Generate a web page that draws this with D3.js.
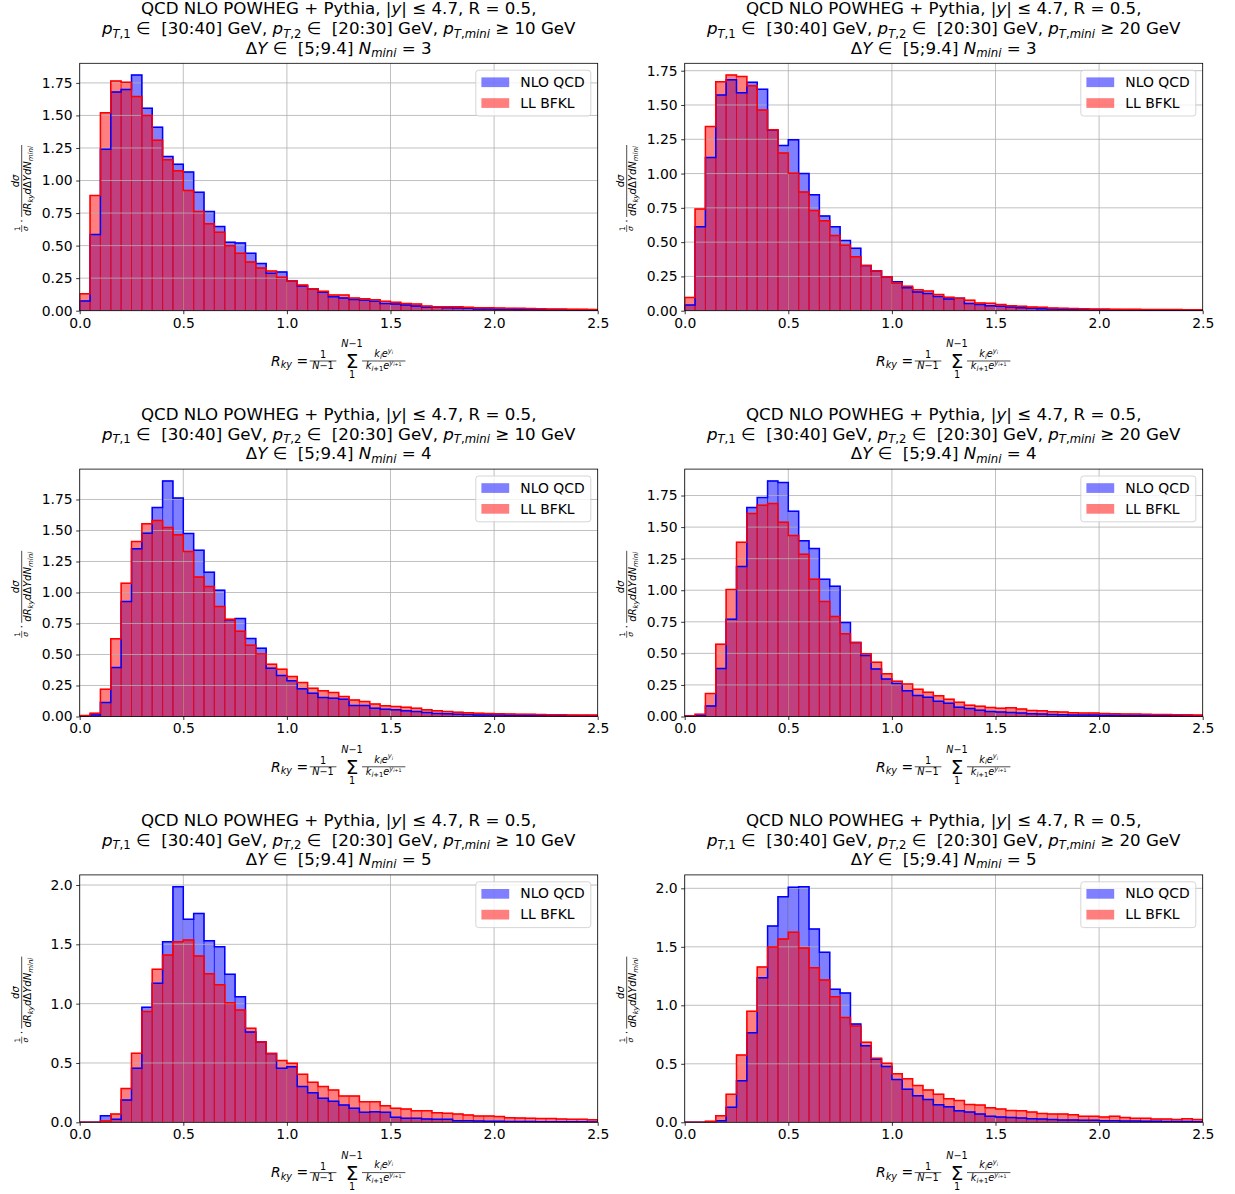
<!DOCTYPE html>
<html>
<head>
<meta charset="utf-8">
<script src="https://cdn.jsdelivr.net/npm/d3@7"></script>
<style>
  body { margin: 0; background: #fff; }
  svg { display: block; }
  text { font-family: "DejaVu Sans", sans-serif; white-space: pre; }
</style>
</head>
<body>
<div id="chart"></div>
<script>
// histogram bins: 50 bins of width 0.05 on [0, 2.5]
const binEdges = d3.range(0, 51).map(i => +(i * 0.05).toFixed(2));
const xTicks = [0, 0.5, 1.0, 1.5, 2.0, 2.5];
const yTicksFine = [0, 0.25, 0.5, 0.75, 1.0, 1.25, 1.5, 1.75];
const yTicksCoarse = [0, 0.5, 1.0, 1.5, 2.0];
const seriesNames = ["NLO QCD", "LL BFKL"];

// N_mini = 3, pT,mini >= 10
const nloN3Pt10 = [0.075, 0.585, 1.24, 1.68, 1.70, 1.81, 1.555, 1.41, 1.185, 1.125, 1.065, 0.91, 0.762, 0.646, 0.526, 0.521, 0.441, 0.362, 0.287, 0.298, 0.228, 0.19, 0.169, 0.141, 0.108, 0.098, 0.087, 0.08, 0.072, 0.056, 0.051, 0.044, 0.036, 0.026, 0.026, 0.023, 0.021, 0.018, 0.013, 0.013, 0.012, 0.011, 0.010, 0.009, 0.008, 0.008, 0.007, 0.006, 0.005, 0.005];
const bfklN3Pt10 = [0.13, 0.885, 1.52, 1.765, 1.755, 1.645, 1.50, 1.31, 1.16, 1.075, 0.924, 0.762, 0.667, 0.603, 0.498, 0.441, 0.375, 0.328, 0.305, 0.257, 0.228, 0.198, 0.169, 0.149, 0.121, 0.12, 0.097, 0.092, 0.085, 0.072, 0.064, 0.056, 0.051, 0.036, 0.031, 0.031, 0.031, 0.026, 0.023, 0.023, 0.021, 0.019, 0.018, 0.016, 0.015, 0.014, 0.013, 0.012, 0.011, 0.010];

// N_mini = 3, pT,mini >= 20
const nloN3Pt20 = [0.041, 0.613, 1.117, 1.572, 1.684, 1.589, 1.665, 1.614, 1.317, 1.205, 1.246, 1.00, 0.845, 0.691, 0.613, 0.511, 0.455, 0.329, 0.29, 0.248, 0.212, 0.168, 0.137, 0.126, 0.104, 0.085, 0.09, 0.052, 0.045, 0.037, 0.032, 0.027, 0.022, 0.017, 0.015, 0.012, 0.010, 0.009, 0.008, 0.007, 0.007, 0.006, 0.005, 0.005, 0.004, 0.004, 0.003, 0.003, 0.003, 0.002];
const bfklN3Pt20 = [0.097, 0.742, 1.343, 1.67, 1.718, 1.708, 1.64, 1.463, 1.319, 1.149, 1.003, 0.866, 0.73, 0.655, 0.548, 0.477, 0.394, 0.329, 0.29, 0.248, 0.2, 0.178, 0.152, 0.143, 0.118, 0.098, 0.09, 0.077, 0.057, 0.054, 0.045, 0.037, 0.032, 0.027, 0.025, 0.02, 0.018, 0.016, 0.015, 0.013, 0.012, 0.011, 0.010, 0.010, 0.009, 0.009, 0.008, 0.008, 0.007, 0.007];

// N_mini = 4, pT,mini >= 10
const nloN4Pt10 = [0.003, 0.013, 0.113, 0.395, 0.927, 1.352, 1.478, 1.685, 1.90, 1.761, 1.476, 1.341, 1.164, 1.019, 0.78, 0.79, 0.629, 0.551, 0.39, 0.331, 0.288, 0.223, 0.188, 0.153, 0.148, 0.14, 0.089, 0.089, 0.067, 0.059, 0.054, 0.046, 0.04, 0.032, 0.024, 0.022, 0.019, 0.016, 0.013, 0.013, 0.012, 0.011, 0.010, 0.009, 0.008, 0.008, 0.007, 0.006, 0.006, 0.005];
const bfklN4Pt10 = [0.008, 0.027, 0.22, 0.626, 1.075, 1.411, 1.554, 1.581, 1.524, 1.465, 1.331, 1.124, 1.048, 0.887, 0.785, 0.688, 0.575, 0.505, 0.422, 0.382, 0.323, 0.274, 0.228, 0.207, 0.194, 0.161, 0.134, 0.121, 0.10, 0.086, 0.081, 0.075, 0.067, 0.054, 0.046, 0.04, 0.035, 0.03, 0.027, 0.024, 0.022, 0.021, 0.019, 0.018, 0.016, 0.015, 0.014, 0.013, 0.012, 0.012];

// N_mini = 4, pT,mini >= 20
const nloN4Pt20 = [0.003, 0.008, 0.084, 0.38, 0.771, 1.188, 1.655, 1.734, 1.866, 1.853, 1.626, 1.391, 1.33, 1.087, 1.032, 0.744, 0.586, 0.483, 0.377, 0.296, 0.262, 0.204, 0.167, 0.152, 0.12, 0.105, 0.074, 0.063, 0.049, 0.04, 0.035, 0.032, 0.027, 0.021, 0.019, 0.016, 0.013, 0.012, 0.011, 0.011, 0.010, 0.009, 0.008, 0.007, 0.007, 0.006, 0.005, 0.005, 0.004, 0.004];
const bfklN4Pt20 = [0.003, 0.018, 0.182, 0.573, 1.006, 1.38, 1.607, 1.673, 1.686, 1.539, 1.433, 1.285, 1.087, 0.911, 0.792, 0.655, 0.586, 0.496, 0.43, 0.338, 0.28, 0.257, 0.215, 0.192, 0.164, 0.137, 0.113, 0.09, 0.082, 0.072, 0.066, 0.07, 0.059, 0.048, 0.045, 0.037, 0.035, 0.029, 0.027, 0.027, 0.024, 0.022, 0.02, 0.019, 0.017, 0.016, 0.015, 0.014, 0.013, 0.012];

// N_mini = 5, pT,mini >= 10
const nloN5Pt10 = [0.0, 0.0, 0.056, 0.025, 0.188, 0.455, 0.969, 1.171, 1.522, 1.986, 1.711, 1.761, 1.531, 1.48, 1.247, 1.059, 0.761, 0.677, 0.579, 0.455, 0.469, 0.301, 0.25, 0.202, 0.177, 0.146, 0.118, 0.084, 0.088, 0.084, 0.042, 0.034, 0.034, 0.028, 0.025, 0.025, 0.014, 0.014, 0.011, 0.008, 0.008, 0.007, 0.006, 0.006, 0.005, 0.005, 0.004, 0.004, 0.004, 0.003];
const bfklN5Pt10 = [0.0, 0.0, 0.012, 0.07, 0.284, 0.581, 0.933, 1.289, 1.41, 1.522, 1.537, 1.402, 1.253, 1.16, 1.008, 0.947, 0.792, 0.677, 0.579, 0.52, 0.497, 0.404, 0.337, 0.301, 0.272, 0.222, 0.222, 0.174, 0.174, 0.14, 0.118, 0.112, 0.098, 0.098, 0.081, 0.076, 0.07, 0.062, 0.053, 0.053, 0.048, 0.039, 0.037, 0.034, 0.031, 0.031, 0.028, 0.025, 0.025, 0.022];

// N_mini = 5, pT,mini >= 20
const nloN5Pt20 = [0.0, 0.0, 0.003, 0.014, 0.128, 0.356, 0.766, 1.236, 1.678, 1.929, 2.009, 2.014, 1.652, 1.453, 1.137, 1.105, 0.84, 0.655, 0.538, 0.476, 0.365, 0.283, 0.228, 0.195, 0.15, 0.132, 0.098, 0.087, 0.07, 0.051, 0.045, 0.042, 0.037, 0.031, 0.028, 0.023, 0.02, 0.02, 0.017, 0.017, 0.014, 0.014, 0.011, 0.011, 0.009, 0.008, 0.007, 0.007, 0.006, 0.005];
const bfklN5Pt20 = [0.0, 0.0, 0.009, 0.057, 0.239, 0.575, 0.949, 1.328, 1.499, 1.567, 1.624, 1.49, 1.322, 1.217, 1.074, 0.895, 0.823, 0.684, 0.547, 0.504, 0.415, 0.372, 0.314, 0.277, 0.24, 0.202, 0.186, 0.152, 0.147, 0.124, 0.113, 0.10, 0.099, 0.088, 0.076, 0.071, 0.071, 0.065, 0.051, 0.051, 0.045, 0.051, 0.04, 0.034, 0.034, 0.028, 0.028, 0.025, 0.031, 0.023];

const panels = [
  { nlo: nloN3Pt10, bfkl: bfklN3Pt10, ptMini: "10", nMini: "3", yTicks: yTicksFine, fmt: ".2f" },
  { nlo: nloN3Pt20, bfkl: bfklN3Pt20, ptMini: "20", nMini: "3", yTicks: yTicksFine, fmt: ".2f" },
  { nlo: nloN4Pt10, bfkl: bfklN4Pt10, ptMini: "10", nMini: "4", yTicks: yTicksFine, fmt: ".2f" },
  { nlo: nloN4Pt20, bfkl: bfklN4Pt20, ptMini: "20", nMini: "4", yTicks: yTicksFine, fmt: ".2f" },
  { nlo: nloN5Pt10, bfkl: bfklN5Pt10, ptMini: "10", nMini: "5", yTicks: yTicksCoarse, fmt: ".1f" },
  { nlo: nloN5Pt20, bfkl: bfklN5Pt20, ptMini: "20", nMini: "5", yTicks: yTicksCoarse, fmt: ".1f" }
];

const width = 1235, height = 1194;
const colLeft = [79.7, 684.7];
const rowTop = [63.3, 469.1, 874.9];
const pw = 518, ph = 247.4;
const fs = 13.9;           // 10pt
const titleFs = 16.67;     // 12pt
const colors = ["#0000ff", "#ff0000"];

const svg = d3.select("#chart").append("svg")
  .attr("width", width)
  .attr("height", height)
  .style("background", "#fff");

// text with mathtext-like runs: fmt letters i = italic, _ = subscript, ^ = superscript
function richText(parent, x, y, segs, size, anchor) {
  const t = parent.append("text")
    .attr("x", x).attr("y", y)
    .attr("text-anchor", anchor || "middle")
    .style("font-size", size + "px")
    .attr("fill", "#000");
  let cur = 0;
  segs.forEach(([str, fmt = ""]) => {
    let s = size, off = 0;
    for (const c of fmt) {
      if (c === "^") { off -= s * 0.42; s *= 0.7; }
      if (c === "_") { off += s * 0.2; s *= 0.7; }
    }
    t.append("tspan")
      .attr("dy", (off - cur).toFixed(2))
      .style("font-size", s + "px")
      .style("font-style", fmt.includes("i") ? "italic" : "normal")
      .text(str);
    cur = off;
  });
  return t;
}

panels.forEach((p, k) => {
  const left = colLeft[k % 2], top = rowTop[Math.floor(k / 2)];
  const g = svg.append("g").attr("transform", `translate(${left},${top})`);

  const x = d3.scaleLinear().domain([0, 2.5]).range([0, pw]);
  const yMax = 1.05 * d3.max([...p.nlo, ...p.bfkl]);
  const y = d3.scaleLinear().domain([0, yMax]).range([ph, 0]);

  const clipId = "clip" + k;
  g.append("clipPath").attr("id", clipId)
    .append("rect").attr("width", pw).attr("height", ph);
  const plot = g.append("g").attr("clip-path", `url(#${clipId})`);

  // filled bars
  [p.nlo, p.bfkl].forEach((vals, s) => {
    plot.append("g").selectAll("rect")
      .data(vals)
      .join("rect")
        .attr("x", (d, i) => x(binEdges[i]))
        .attr("y", d => y(d))
        .attr("width", (d, i) => x(binEdges[i + 1]) - x(binEdges[i]))
        .attr("height", d => y(0) - y(d))
        .attr("fill", colors[s])
        .attr("fill-opacity", 0.5)
        .attr("stroke", colors[s])
        .attr("stroke-opacity", 0.5)
        .attr("stroke-width", 1);
  });

  // grid
  plot.append("g").selectAll("line")
    .data(xTicks)
    .join("line")
      .attr("x1", d => x(d)).attr("x2", d => x(d))
      .attr("y1", 0).attr("y2", ph)
      .attr("stroke", "#b0b0b0").attr("stroke-width", 0.8);
  plot.append("g").selectAll("line")
    .data(p.yTicks)
    .join("line")
      .attr("x1", 0).attr("x2", pw)
      .attr("y1", d => y(d)).attr("y2", d => y(d))
      .attr("stroke", "#b0b0b0").attr("stroke-width", 0.8);

  // step outlines
  const line = d3.line().x(d => x(d[0])).y(d => y(d[1]));
  [p.nlo, p.bfkl].forEach((vals, s) => {
    const pts = [[binEdges[0], 0]];
    vals.forEach((v, i) => { pts.push([binEdges[i], v]); pts.push([binEdges[i + 1], v]); });
    pts.push([binEdges[vals.length], 0]);
    plot.append("path")
      .attr("d", line(pts))
      .attr("fill", "none")
      .attr("stroke", colors[s])
      .attr("stroke-width", 1.5)
      .attr("stroke-linejoin", "miter");
  });

  // axes
  const xAxis = g.append("g").attr("transform", `translate(0,${ph})`)
    .call(d3.axisBottom(x).tickValues(xTicks).tickFormat(d3.format(".1f")).tickSize(3.5).tickPadding(3.5));
  const yAxis = g.append("g")
    .call(d3.axisLeft(y).tickValues(p.yTicks).tickFormat(d3.format(p.fmt)).tickSize(3.5).tickPadding(3.5));
  [xAxis, yAxis].forEach(a => {
    a.select(".domain").remove();
    a.selectAll("line").attr("stroke", "#000").attr("stroke-width", 0.8);
    a.selectAll("text").style("font-size", fs + "px").attr("fill", "#000");
  });

  g.append("rect")
    .attr("width", pw).attr("height", ph)
    .attr("fill", "none").attr("stroke", "#000").attr("stroke-width", 0.8);

  // title
  const cx = pw / 2;
  richText(g, cx, -49.2, [["QCD NLO POWHEG + Pythia, |"], ["y", "i"], ["| ≤ 4.7, R = 0.5,"]], titleFs);
  richText(g, cx, -29.1, [
    ["p", "i"], ["T", "_i"], [",1", "_"], [" ∈  [30:40] GeV, "],
    ["p", "i"], ["T", "_i"], [",2", "_"], [" ∈  [20:30] GeV, "],
    ["p", "i"], ["T", "_i"], [",", "_"], ["mini", "_i"], [` ≥ ${p.ptMini} GeV`]
  ], titleFs);
  richText(g, cx, -9.8, [["Δ"], ["Y", "i"], [" ∈  [5;9.4] "], ["N", "i"], ["mini", "_i"], [` = ${p.nMini}`]], titleFs);

  // y label (rotated)
  const yl = g.append("g").attr("transform", `translate(-58,${ph / 2}) rotate(-90)`);
  yl.append("line").attr("x1", -45).attr("x2", -38).attr("y1", 0).attr("y2", 0)
    .attr("stroke", "#000").attr("stroke-width", 0.6);
  richText(yl, -41.5, -1.6, [["1"]], 7.5);
  richText(yl, -41.5, 6.2, [["σ", "i"]], 7.5);
  richText(yl, -34, 3.5, [["·"]], 11);
  yl.append("line").attr("x1", -30).attr("x2", 42).attr("y1", 0).attr("y2", 0)
    .attr("stroke", "#000").attr("stroke-width", 0.7);
  richText(yl, 6, -2.5, [["dσ", "i"]], 10);
  richText(yl, 6, 9.5, [
    ["dR", "i"], ["ky", "_i"], ["d", "i"], ["Δ"], ["Y", "i"], ["dN", "i"], ["mini", "_i"]
  ], 10);

  // x label
  const xl = g.append("g").attr("transform", `translate(${cx},${ph})`);
  richText(xl, -67.7, 55, [["R", "i"], ["ky", "_i"], [" ="]], fs, "start");
  xl.append("line").attr("x1", -29).attr("x2", -2.3).attr("y1", 50.3).attr("y2", 50.3)
    .attr("stroke", "#000").attr("stroke-width", 0.7);
  richText(xl, -15.7, 47.3, [["1"]], 9.7);
  richText(xl, -15.7, 58.8, [["N", "i"], ["−1"]], 9.7);
  richText(xl, 13.3, 57.3, [["Σ"]], 20);
  richText(xl, 13.3, 36.8, [["N", "i"], ["−1"]], 9.7);
  richText(xl, 13.3, 67.6, [["1"]], 9.7);
  xl.append("line").attr("x1", 23.3).attr("x2", 66.7).attr("y1", 50.3).attr("y2", 50.3)
    .attr("stroke", "#000").attr("stroke-width", 0.7);
  richText(xl, 45, 46, [["k", "i"], ["i", "_i"], ["e", "i"], ["y", "^i"], ["i", "^_i"]], 9.7);
  richText(xl, 45, 58.5, [["k", "i"], ["i", "_i"], ["+1", "_"], ["e", "i"], ["y", "^i"], ["i", "^_i"], ["+1", "^_"]], 9.7);

  // legend
  const lw = 115, lh = 45.8;
  const lg = g.append("g").attr("transform", `translate(${pw - 6.9 - lw},6.9)`);
  lg.append("rect")
    .attr("width", lw).attr("height", lh).attr("rx", 2.8)
    .attr("fill", "#fff").attr("fill-opacity", 0.8)
    .attr("stroke", "#cccccc").attr("stroke-width", 0.8);
  seriesNames.forEach((name, s) => {
    lg.append("rect")
      .attr("x", 5.6).attr("y", 7.2 + s * 20.8)
      .attr("width", 27.8).attr("height", 9.7)
      .attr("fill", colors[s]).attr("fill-opacity", 0.5);
    lg.append("text")
      .attr("x", 44.5).attr("y", 16.7 + s * 20.8)
      .style("font-size", fs + "px").attr("fill", "#000")
      .text(name);
  });
});
</script>
</body>
</html>
